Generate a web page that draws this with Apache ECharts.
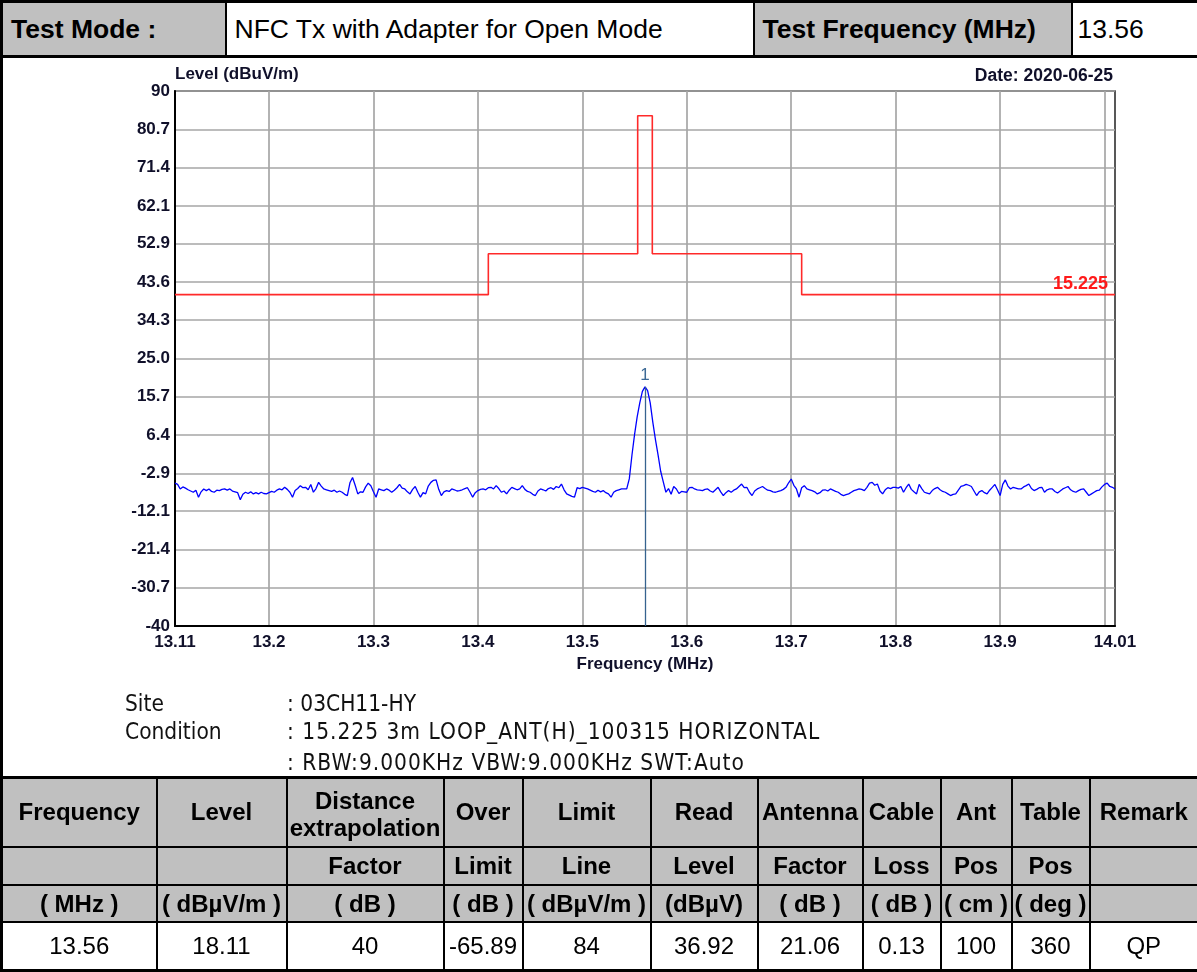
<!DOCTYPE html>
<html>
<head>
<meta charset="utf-8">
<title>NFC Tx radiated emission</title>
<script src="https://cdn.jsdelivr.net/npm/echarts@6/dist/echarts.min.js"></script>
<style>
  body { margin: 0; background: #fff; }
  #page { position: relative; width: 1197px; height: 972px; overflow: hidden;
          font-family: "Liberation Sans", Arial, sans-serif; color: #000; }
  table { border-collapse: collapse; table-layout: fixed; position: absolute; left: 0; border: 3px solid #000; }
  td { border: 2px solid #000; padding: 0; white-space: nowrap; }
  #head { top: 0; width: 1197px; height: 58px; }
  #head td { font-size: 26.5px; padding-left: 8px; }
  .g { background: #c0c0c0; font-weight: bold; }
  #chart { position: absolute; left: 0; top: 57px; width: 1197px; height: 719px; }
  #leftline { position: absolute; left: 0; top: 57px; width: 3px; height: 721px; background: #000; }
  .info { position: absolute; font-family: "DejaVu Sans Condensed", "DejaVu Sans", sans-serif;
          font-size: 22.5px; color: #111; white-space: nowrap; line-height: 26px; }
  .wide { letter-spacing: 1px; }
  #data { top: 776px; width: 1197px; height: 196px; }
  #data td { text-align: center; font-size: 24px; }
  #data tr.h td { background: #c0c0c0; font-weight: bold; }
  #data td.two { line-height: 27px; padding-top: 3px; }
</style>
</head>
<body>
<div id="page">
  <table id="head">
    <colgroup><col style="width:224px"><col style="width:528px"><col style="width:318px"><col style="width:127px"></colgroup>
    <tr><td class="g">Test Mode :</td><td>NFC Tx with Adapter for Open Mode</td><td class="g">Test Frequency (MHz)</td><td style="padding-left:5px">13.56</td></tr>
  </table>

  <div id="chart"></div>
  <div id="leftline"></div>

  <div class="info" style="left:125px;top:690px">Site</div>
  <div class="info" style="left:125px;top:718px">Condition</div>
  <div class="info" style="left:287px;top:690px">: 03CH11-HY</div>
  <div class="info wide" style="left:287px;top:718px">: 15.225 3m LOOP_ANT(H)_100315 HORIZONTAL</div>
  <div class="info wide" style="left:287px;top:749px">: RBW:9.000KHz VBW:9.000KHz SWT:Auto</div>

  <table id="data">
    <colgroup>
      <col style="width:155px"><col style="width:130px"><col style="width:157px"><col style="width:79px">
      <col style="width:128px"><col style="width:107px"><col style="width:105px"><col style="width:78px">
      <col style="width:71px"><col style="width:78px"><col style="width:109px">
    </colgroup>
    <tr class="h" style="height:69px"><td>Frequency</td><td>Level</td><td class="two">Distance<br>extrapolation</td><td>Over</td><td>Limit</td><td>Read</td><td>Antenna</td><td>Cable</td><td>Ant</td><td>Table</td><td>Remark</td></tr>
    <tr class="h" style="height:38px"><td></td><td></td><td>Factor</td><td>Limit</td><td>Line</td><td>Level</td><td>Factor</td><td>Loss</td><td>Pos</td><td>Pos</td><td></td></tr>
    <tr class="h" style="height:37px"><td>( MHz )</td><td>( dBµV/m )</td><td>( dB )</td><td>( dB )</td><td>( dBµV/m )</td><td>(dBµV)</td><td>( dB )</td><td>( dB )</td><td>( cm )</td><td>( deg )</td><td></td></tr>
    <tr style="height:48px"><td>13.56</td><td>18.11</td><td>40</td><td>-65.89</td><td>84</td><td>36.92</td><td>21.06</td><td>0.13</td><td>100</td><td>360</td><td>QP</td></tr>
  </table>
</div>

<script>
  // sweep: 13.11 - 14.01 MHz, one reading every 2.5 kHz
  var sweepStart = 13.11;
  var sweepStep = 0.0025;
  var traceLevel = [
    -5.3, -5.6, -6.7, -6.2, -6.5, -6.9, -7.2, -7.5, -7.0, -8.7, -7.4, -6.7, -7.1, -6.7, -7.3, -7.5, -7.0, -7.1, -6.8, -6.7,
    -7.0, -6.7, -7.2, -7.4, -7.6, -9.3, -8.0, -7.5, -7.8, -7.4, -7.9, -7.6, -7.9, -7.5, -7.8, -7.9, -7.6, -7.3, -7.5, -7.0,
    -6.7, -6.9, -6.3, -6.8, -7.5, -8.7, -7.1, -6.6, -5.9, -6.4, -6.3, -6.9, -5.6, -7.5, -6.6, -5.1, -6.0, -6.7, -6.9, -7.1,
    -7.3, -7.0, -7.5, -7.2, -7.5, -8.0, -8.3, -5.2, -3.9, -5.8, -7.9, -7.4, -7.5, -6.2, -5.3, -5.9, -7.4, -8.7, -6.7, -6.9,
    -7.1, -6.7, -7.0, -7.5, -7.0, -6.4, -5.6, -6.5, -6.7, -7.4, -7.9, -6.8, -6.1, -7.5, -8.7, -7.6, -7.9, -6.0, -5.1, -4.6,
    -4.5, -6.8, -8.3, -7.4, -7.1, -7.3, -6.7, -6.9, -7.2, -7.1, -6.9, -6.6, -6.4, -7.5, -8.7, -7.6, -7.1, -6.8, -6.7, -6.9,
    -6.4, -6.3, -6.7, -5.9, -6.6, -7.5, -7.2, -7.9, -7.0, -6.3, -6.6, -6.9, -6.7, -5.9, -6.8, -7.3, -7.5, -8.0, -8.3, -7.2,
    -6.7, -6.9, -7.2, -6.6, -6.4, -6.8, -6.1, -6.4, -5.5, -6.9, -7.9, -8.2, -8.5, -8.7, -6.4, -6.6, -6.3, -6.5, -6.7, -7.0,
    -7.3, -7.5, -7.0, -7.4, -7.1, -7.6, -7.9, -8.7, -7.5, -7.1, -6.9, -6.7, -6.7, -6.7, -4.2, 1.5, 6.5, 10.8, 14.2, 17.0,
    18.11, 17.2, 14.2, 9.5, 5.3, 1.6, -2.4, -5.0, -7.5, -6.6, -8.0, -6.1, -6.7, -7.8, -7.3, -7.4, -7.5, -6.4, -6.3, -6.7,
    -6.9, -7.0, -7.1, -6.8, -6.7, -7.2, -7.5, -6.9, -6.3, -7.4, -8.3, -7.6, -7.1, -7.5, -7.0, -6.7, -6.1, -5.5, -6.4, -6.3,
    -7.5, -8.3, -7.2, -6.7, -6.4, -6.1, -6.6, -7.0, -7.1, -7.4, -7.5, -7.3, -7.1, -6.8, -6.3, -5.2, -4.3, -5.8, -6.7, -8.7,
    -6.4, -5.9, -6.7, -6.9, -7.1, -7.4, -7.9, -7.6, -7.0, -6.9, -7.2, -6.7, -7.0, -7.3, -7.5, -8.0, -8.3, -8.1, -7.9, -7.5,
    -7.1, -6.9, -6.7, -6.8, -7.1, -6.3, -5.3, -5.1, -5.8, -5.5, -7.2, -7.9, -6.9, -6.4, -6.6, -6.3, -6.3, -6.5, -6.1, -7.5,
    -6.4, -5.5, -6.8, -7.4, -7.9, -5.6, -6.6, -7.5, -7.7, -7.9, -7.1, -6.6, -6.3, -6.9, -7.3, -7.5, -7.9, -8.3, -8.0, -7.9,
    -7.0, -6.1, -5.9, -5.6, -5.8, -6.1, -7.2, -8.3, -7.4, -7.1, -7.6, -7.9, -7.0, -6.3, -5.6, -6.9, -8.3, -5.6, -4.5, -6.0,
    -6.7, -6.3, -6.5, -6.7, -6.7, -6.2, -5.9, -5.5, -6.6, -7.1, -6.8, -6.4, -6.3, -7.5, -6.9, -6.7, -6.7, -7.3, -7.7, -7.2,
    -6.7, -6.4, -6.1, -6.9, -7.3, -7.5, -7.1, -6.8, -6.7, -7.5, -8.3, -7.9, -7.5, -7.1, -7.0, -6.2, -5.6, -5.3, -6.1, -6.3,
    -6.7
  ];

  // FCC 15.225 limit (converted to 3 m)
  var limitFreq = [13.11, 13.41, 13.41, 13.553, 13.553, 13.567, 13.567, 13.71, 13.71, 14.01];
  var limitLevel = [40.51, 40.51, 50.47, 50.47, 84.0, 84.0, 50.47, 50.47, 40.51, 40.51];

  // marker 1
  var markerFreq = 13.56;
  var markerLevel = 18.11;

  var xGrid = [13.2, 13.3, 13.4, 13.5, 13.6, 13.7, 13.8, 13.9, 14.0];
  var xLabels = [13.11, 13.2, 13.3, 13.4, 13.5, 13.6, 13.7, 13.8, 13.9, 14.01];
  var yTicks = [-40, -30.7, -21.4, -12.1, -2.9, 6.4, 15.7, 25.0, 34.3, 43.6, 52.9, 62.1, 71.4, 80.7, 90];

  var FONT = '"Liberation Sans", Arial, sans-serif';
  var INK = '#10102a';

  var trace = traceLevel.map(function (v, i) {
    return [+(sweepStart + i * sweepStep).toFixed(4), v];
  });
  var limit = limitFreq.map(function (f, i) { return [f, limitLevel[i]]; });

  var chart = echarts.init(document.getElementById('chart'));

  var option = {
    animation: false,
    title: {
      text: 'Date: 2020-06-25',
      right: 84,
      top: 10,
      padding: 0,
      textStyle: { fontFamily: FONT, fontSize: 17.5, fontWeight: 'bold', color: INK }
    },
    grid: {
      left: 175, right: 82, top: 34, bottom: 150,
      show: true, borderColor: '#222', borderWidth: 1.5, backgroundColor: '#fff'
    },
    xAxis: {
      type: 'value',
      min: 13.11,
      max: 14.01,
      name: 'Frequency (MHz)',
      nameLocation: 'middle',
      nameGap: 28,
      nameTextStyle: { fontFamily: FONT, fontSize: 17, fontWeight: 'bold', color: INK },
      axisLine: { show: true, onZero: false, lineStyle: { color: '#000', width: 2 } },
      axisTick: { show: false, customValues: xGrid },
      axisLabel: {
        customValues: xLabels,
        margin: 8,
        fontFamily: FONT, fontSize: 17, fontWeight: 'bold', color: INK,
        formatter: function (v) { return String(v); }
      },
      splitLine: { show: true, lineStyle: { color: '#a6a6a6', width: 1.7 } }
    },
    yAxis: {
      type: 'value',
      min: -40,
      max: 90,
      name: 'Level (dBuV/m)',
      nameLocation: 'end',
      nameGap: -3,
      nameTextStyle: { fontFamily: FONT, fontSize: 17, fontWeight: 'bold', color: INK, align: 'left', verticalAlign: 'bottom' },
      axisLine: { show: true, onZero: false, lineStyle: { color: '#000', width: 2 } },
      axisTick: { show: false, customValues: yTicks },
      axisLabel: {
        customValues: yTicks,
        margin: 5,
        fontFamily: FONT, fontSize: 17, fontWeight: 'bold', color: INK,
        formatter: function (v) { return (v === 90 || v === -40) ? String(v) : v.toFixed(1); }
      },
      splitLine: { show: true, lineStyle: { color: '#a6a6a6', width: 1.7 } }
    },
    series: [
      {
        name: 'Limit',
        type: 'line',
        data: limit,
        showSymbol: false,
        symbol: 'none',
        lineStyle: { color: '#ff2a2a', width: 1.6 },
        markPoint: {
          symbol: 'circle',
          symbolSize: 0,
          silent: true,
          data: [{ coord: [14.01, 40.51] }],
          label: {
            show: true, position: 'left', distance: 7, offset: [0, -11],
            formatter: '15.225',
            fontFamily: FONT, fontSize: 18, fontWeight: 'bold', color: '#ff1a1a'
          }
        }
      },
      {
        name: 'Level',
        type: 'line',
        data: trace,
        showSymbol: false,
        symbol: 'none',
        lineStyle: { color: '#0000ff', width: 1.3 },
        markLine: {
          symbol: ['none', 'none'],
          silent: true,
          label: { show: false },
          lineStyle: { color: '#36638f', width: 1.3, type: 'solid' },
          data: [[{ coord: [markerFreq, markerLevel] }, { coord: [markerFreq, -40] }]]
        },
        markPoint: {
          symbol: 'circle',
          symbolSize: 0,
          silent: true,
          data: [{ coord: [markerFreq, markerLevel] }],
          label: {
            show: true, position: 'top', distance: 3,
            formatter: '1',
            fontFamily: FONT, fontSize: 17, color: '#3d6a96'
          }
        }
      }
    ]
  };

  chart.setOption(option);
</script>
</body>
</html>
